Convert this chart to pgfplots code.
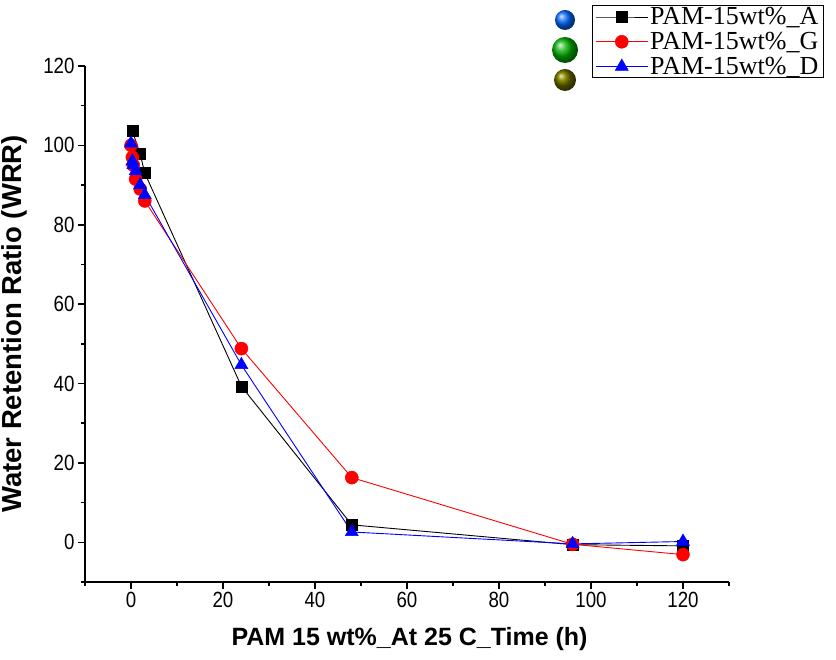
\documentclass[border=0pt]{standalone}
\usepackage{pgfplots}
\pgfplotsset{compat=1.18}
\usepackage{fontspec}
\setmainfont{Liberation Serif}
\newfontfamily\tickfont[FakeStretch=0.85]{Liberation Sans}
\newfontfamily\labfont{Liberation Sans}

\pgfplotstableread{
x y
0.3 103.6
2 97.8
3 93.0
24 39.3
48 4.4
96 -0.6
120 -0.9
}\dataA
\pgfplotstableread{
x y
0 100.0
0.3 97.0
0.5 95.0
1 91.5
2 89.0
3 86.0
24 48.8
48 16.3
96 -0.5
120 -3.1
}\dataG
\pgfplotstableread{
x y
0 100.5
0.3 96.0
0.5 95.0
1 93.5
2 90.0
3 87.5
24 44.7
48 2.6
96 -0.4
120 0.2
}\dataD

\begin{document}
\begin{tikzpicture}[x=1pt,y=1pt]
\path[use as bounding box] (0,0) rectangle (836,660);
\begin{axis}[
  at={(85pt,78pt)}, anchor=south west,
  scale only axis, width=644pt, height=516pt,
  xmin=-10, xmax=130, ymin=-10, ymax=120,
  axis x line*=bottom, axis y line*=left,
  xtick={0,20,...,120}, minor xtick={-10,10,...,130},
  ytick={0,20,...,120}, minor ytick={-10,10,...,110},
  tick align=outside, major tick length=7pt, minor tick length=4pt,
  every tick/.style={line width=1.5pt, black},
  axis line style={line width=1.5pt},
  ticklabel style={font=\tickfont\fontsize{22}{26}\selectfont},
  /pgf/number format/assume math mode=true,
  xlabel={PAM 15 wt\%\_At 25 C\_Time (h)},
  ylabel={Water Retention Ratio (WRR)},
  xlabel style={font=\labfont\bfseries\fontsize{25}{28}\selectfont,
    at={(axis description cs:0.504,0)}, anchor=center, yshift=-57pt},
  ylabel style={font=\labfont\bfseries\fontsize{27.5}{30}\selectfont,
    at={(axis description cs:0,0.5)}, anchor=center, yshift=71pt},
  legend style={at={(axis description cs:0.787,1.118)}, anchor=north west,
    font=\fontsize{26}{28}\selectfont, draw=black, line width=1pt,
    row sep=2pt, inner xsep=3pt, inner ysep=0pt},
  legend cell align=left,
  legend image code/.code={
    \draw[mark repeat=2,mark phase=2,#1] plot coordinates {(0pt,0pt) (26pt,0pt) (52pt,0pt)};
  },
  clip=false,
]
\addplot[black, line width=0.9pt, mark=square*, mark size=5.5pt, mark options={solid, line width=0.5pt}] table[x=x,y=y] {\dataA};
\addlegendentry{PAM-15wt\%\_A}
\addplot[red, line width=0.9pt, mark=*, mark size=6.5pt, mark options={solid, line width=0.5pt}] table[x=x,y=y] {\dataG};
\addlegendentry{PAM-15wt\%\_G}
\addplot[blue, line width=0.9pt, mark=triangle*, mark size=7.5pt, mark options={solid, line width=0.5pt}] table[x=x,y=y] {\dataD};
\addlegendentry{PAM-15wt\%\_D}
\end{axis}
\shade[ball color=blue!60!cyan] (565,640) circle (10);
\shade[ball color=green!70!black] (565,610) circle (13);
\shade[ball color=olive!80!black] (565,580) circle (11);
\end{tikzpicture}
\end{document}
